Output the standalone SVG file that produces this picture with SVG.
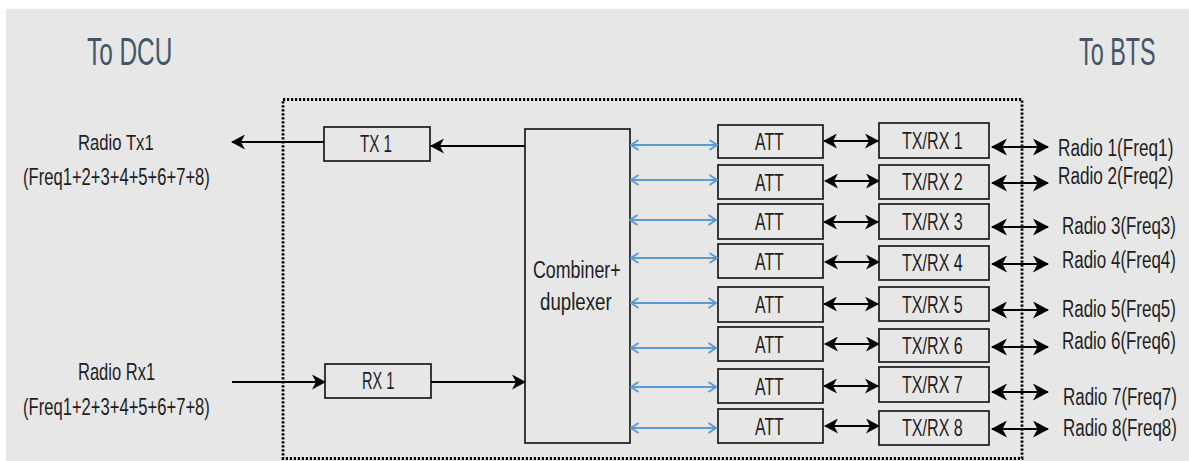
<svg xmlns="http://www.w3.org/2000/svg" width="1189" height="461" viewBox="0 0 1189 461">
<style>
.box{fill:none;stroke:#1a1a1a;stroke-width:1.7}
.t{font-family:"Liberation Sans",Arial,sans-serif;font-size:23px;fill:#1e1e1e}
.title{font-family:"Liberation Sans",Arial,sans-serif;font-size:39px;fill:#44546a}
.bl{stroke:#000;stroke-width:2;fill:none}
.blu{stroke:#5b9bd5;stroke-width:2;fill:none}
</style>
<defs>
<marker id="ah" markerUnits="userSpaceOnUse" markerWidth="14" markerHeight="15" refX="13" refY="7.5" orient="auto-start-reverse" viewBox="0 0 14 15"><path d="M0,0 L14,7.5 L0,15 L4,7.5 z" fill="#000"/></marker>
<marker id="ahL" markerUnits="userSpaceOnUse" markerWidth="16" markerHeight="17" refX="15" refY="8.5" orient="auto-start-reverse" viewBox="0 0 16 17"><path d="M0,0 L16,8.5 L0,17 L4.5,8.5 z" fill="#000"/></marker>
<marker id="bh" markerUnits="userSpaceOnUse" markerWidth="10" markerHeight="12" refX="8.5" refY="6" orient="auto-start-reverse" viewBox="0 0 10 12"><path d="M1,1 L8.5,6 L1,11" fill="none" stroke="#5b9bd5" stroke-width="2"/></marker>
</defs>
<rect x="0" y="0" width="1189" height="461" fill="#ffffff"/>
<rect x="6" y="9" width="1183" height="452" fill="#e7e7e7"/>
<g id="boundary"><rect x="283" y="99.5" width="739" height="359" fill="none" stroke="#000" stroke-width="2.8" stroke-dasharray="2.2 1.8"/></g>
<g id="titles">
<text class="title" transform="translate(87,65) scale(0.625,1)">To DCU</text>
<text class="title" transform="translate(1079,65) scale(0.6,1)">To BTS</text>
</g>
<g id="label-tx">
<text class="t" transform="translate(78,150) scale(0.725,1)">Radio Tx1</text>
<text class="t" transform="translate(23,185) scale(0.722,1)">(Freq1+2+3+4+5+6+7+8)</text>
</g>
<g id="label-rx">
<text class="t" transform="translate(78,380) scale(0.718,1)">Radio Rx1</text>
<text class="t" transform="translate(23,415) scale(0.722,1)">(Freq1+2+3+4+5+6+7+8)</text>
</g>
<g id="tx1"><rect class="box" x="324" y="127" width="106" height="34"/><text class="t" transform="translate(360,152) scale(0.66,1)">TX 1</text></g>
<g id="rx1"><rect class="box" x="325" y="364" width="106" height="34"/><text class="t" transform="translate(362,389) scale(0.632,1)">RX 1</text></g>
<g id="combiner"><rect class="box" x="525" y="129" width="105" height="314"/>
<text class="t" transform="translate(533,278) scale(0.775,1)">Combiner+</text>
<text class="t" transform="translate(540,310) scale(0.813,1)">duplexer</text></g>
<g id="att1"><rect class="box" x="718" y="125" width="105" height="33"/><text class="t" transform="translate(755,150) scale(0.69,1)">ATT</text></g>
<g id="att2"><rect class="box" x="718" y="165" width="105" height="34"/><text class="t" transform="translate(755,190.5) scale(0.69,1)">ATT</text></g>
<g id="att3"><rect class="box" x="718" y="204" width="105" height="35"/><text class="t" transform="translate(755,230) scale(0.69,1)">ATT</text></g>
<g id="att4"><rect class="box" x="718" y="244" width="105" height="34"/><text class="t" transform="translate(755,269.5) scale(0.69,1)">ATT</text></g>
<g id="att5"><rect class="box" x="718" y="287" width="105" height="35"/><text class="t" transform="translate(755,313) scale(0.69,1)">ATT</text></g>
<g id="att6"><rect class="box" x="718" y="327" width="105" height="34"/><text class="t" transform="translate(755,353) scale(0.69,1)">ATT</text></g>
<g id="att7"><rect class="box" x="718" y="369" width="105" height="34"/><text class="t" transform="translate(755,394.5) scale(0.69,1)">ATT</text></g>
<g id="att8"><rect class="box" x="718" y="409" width="105" height="34"/><text class="t" transform="translate(755,434.5) scale(0.69,1)">ATT</text></g>
<g id="txrx1"><rect class="box" x="879" y="123" width="110" height="35"/><text class="t" transform="translate(902,148.5) scale(0.70,1)">TX/RX 1</text></g>
<g id="txrx2"><rect class="box" x="879" y="165" width="110" height="34"/><text class="t" transform="translate(902,190) scale(0.70,1)">TX/RX 2</text></g>
<g id="txrx3"><rect class="box" x="879" y="204" width="110" height="35"/><text class="t" transform="translate(902,229.5) scale(0.70,1)">TX/RX 3</text></g>
<g id="txrx4"><rect class="box" x="879" y="246" width="110" height="34"/><text class="t" transform="translate(902,271) scale(0.70,1)">TX/RX 4</text></g>
<g id="txrx5"><rect class="box" x="879" y="287" width="110" height="34"/><text class="t" transform="translate(902,312.5) scale(0.70,1)">TX/RX 5</text></g>
<g id="txrx6"><rect class="box" x="879" y="329" width="110" height="33"/><text class="t" transform="translate(902,353.5) scale(0.70,1)">TX/RX 6</text></g>
<g id="txrx7"><rect class="box" x="879" y="367" width="110" height="35"/><text class="t" transform="translate(902,392.5) scale(0.70,1)">TX/RX 7</text></g>
<g id="txrx8"><rect class="box" x="879" y="411" width="110" height="34"/><text class="t" transform="translate(902,436) scale(0.70,1)">TX/RX 8</text></g>
<g id="radios">
<text class="t" transform="translate(1058,156) scale(0.746,1)">Radio 1(Freq1)</text>
<text class="t" transform="translate(1058,184) scale(0.746,1)">Radio 2(Freq2)</text>
<text class="t" transform="translate(1062,234) scale(0.737,1)">Radio 3(Freq3)</text>
<text class="t" transform="translate(1062,268) scale(0.737,1)">Radio 4(Freq4)</text>
<text class="t" transform="translate(1062,317) scale(0.737,1)">Radio 5(Freq5)</text>
<text class="t" transform="translate(1062,349) scale(0.737,1)">Radio 6(Freq6)</text>
<text class="t" transform="translate(1063,405) scale(0.737,1)">Radio 7(Freq7)</text>
<text class="t" transform="translate(1063,436) scale(0.737,1)">Radio 8(Freq8)</text>
</g>
<g id="connectors">
<line class="bl" x1="525" y1="146" x2="431" y2="146" marker-end="url(#ah)"/>
<line class="bl" x1="324" y1="142" x2="232" y2="142" marker-end="url(#ah)"/>
<line class="bl" x1="232" y1="382" x2="325" y2="382" marker-end="url(#ah)"/>
<line class="bl" x1="431" y1="382" x2="525" y2="382" marker-end="url(#ah)"/>
<line class="blu" x1="631" y1="145" x2="717" y2="145" marker-start="url(#bh)" marker-end="url(#bh)"/>
<line class="blu" x1="631" y1="180" x2="717" y2="180" marker-start="url(#bh)" marker-end="url(#bh)"/>
<line class="blu" x1="630" y1="220" x2="716" y2="220" marker-start="url(#bh)" marker-end="url(#bh)"/>
<line class="blu" x1="631" y1="258" x2="717" y2="258" marker-start="url(#bh)" marker-end="url(#bh)"/>
<line class="blu" x1="631" y1="303" x2="716" y2="303" marker-start="url(#bh)" marker-end="url(#bh)"/>
<line class="blu" x1="631" y1="348" x2="716" y2="348" marker-start="url(#bh)" marker-end="url(#bh)"/>
<line class="blu" x1="631" y1="387" x2="716" y2="387" marker-start="url(#bh)" marker-end="url(#bh)"/>
<line class="blu" x1="631" y1="428" x2="716" y2="428" marker-start="url(#bh)" marker-end="url(#bh)"/>
<line class="bl" x1="824" y1="141" x2="878" y2="141" marker-start="url(#ah)" marker-end="url(#ah)"/>
<line class="bl" x1="825" y1="181" x2="879" y2="181" marker-start="url(#ah)" marker-end="url(#ah)"/>
<line class="bl" x1="824" y1="222" x2="878" y2="222" marker-start="url(#ah)" marker-end="url(#ah)"/>
<line class="bl" x1="825" y1="262" x2="879" y2="262" marker-start="url(#ah)" marker-end="url(#ah)"/>
<line class="bl" x1="824" y1="304" x2="878" y2="304" marker-start="url(#ah)" marker-end="url(#ah)"/>
<line class="bl" x1="825" y1="344" x2="879" y2="344" marker-start="url(#ah)" marker-end="url(#ah)"/>
<line class="bl" x1="824" y1="386" x2="878" y2="386" marker-start="url(#ah)" marker-end="url(#ah)"/>
<line class="bl" x1="825" y1="426" x2="879" y2="426" marker-start="url(#ah)" marker-end="url(#ah)"/>
<line class="bl" x1="992" y1="147" x2="1048" y2="147" marker-start="url(#ahL)" marker-end="url(#ahL)"/>
<line class="bl" x1="992" y1="183" x2="1048" y2="183" marker-start="url(#ahL)" marker-end="url(#ahL)"/>
<line class="bl" x1="992" y1="227" x2="1048" y2="227" marker-start="url(#ahL)" marker-end="url(#ahL)"/>
<line class="bl" x1="992" y1="264" x2="1048" y2="264" marker-start="url(#ahL)" marker-end="url(#ahL)"/>
<line class="bl" x1="992" y1="310" x2="1048" y2="310" marker-start="url(#ahL)" marker-end="url(#ahL)"/>
<line class="bl" x1="992" y1="347" x2="1048" y2="347" marker-start="url(#ahL)" marker-end="url(#ahL)"/>
<line class="bl" x1="992" y1="392" x2="1048" y2="392" marker-start="url(#ahL)" marker-end="url(#ahL)"/>
<line class="bl" x1="992" y1="429" x2="1048" y2="429" marker-start="url(#ahL)" marker-end="url(#ahL)"/>
</g>
</svg>
